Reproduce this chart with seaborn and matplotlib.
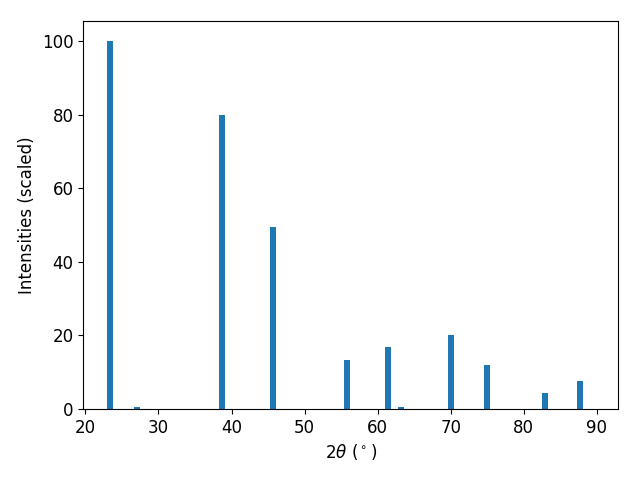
import numpy as np
import pandas as pd
import matplotlib
matplotlib.use('Agg')
import matplotlib.pyplot as plt
import seaborn as sns

# peak positions (2theta, degrees) and scaled intensities
two_theta = [23.35, 27.1, 38.75, 45.7, 55.85, 61.4, 63.2, 70.0, 75.0, 82.9, 87.7]
intensity = [100.0, 0.4, 80.0, 49.4, 13.3, 16.8, 0.4, 20.1, 12.0, 4.35, 7.6]

df = pd.DataFrame({'two_theta': two_theta, 'intensity': intensity})

plt.rcParams['font.size'] = 12

fig, ax = plt.subplots(figsize=(6.4, 4.8), dpi=100)

bar_w = 0.85  # in degrees
min_gap = np.min(np.diff(np.sort(df['two_theta'].values)))
sns.barplot(data=df, x='two_theta', y='intensity', native_scale=True,
            width=bar_w / min_gap, color='#1f77b4', saturation=1,
            errorbar=None, ax=ax)

ax.set_xlim(19.7, 92.9)
ax.set_ylim(0, 105.4)
ax.set_xticks([20, 30, 40, 50, 60, 70, 80, 90])
ax.set_xlabel(r'$2\theta$ ($^\circ$)')
ax.set_ylabel('Intensities (scaled)')

fig.subplots_adjust(left=0.13, right=0.9656, top=0.956, bottom=0.148)
plt.savefig('out.png', dpi=100)
plt.close()
